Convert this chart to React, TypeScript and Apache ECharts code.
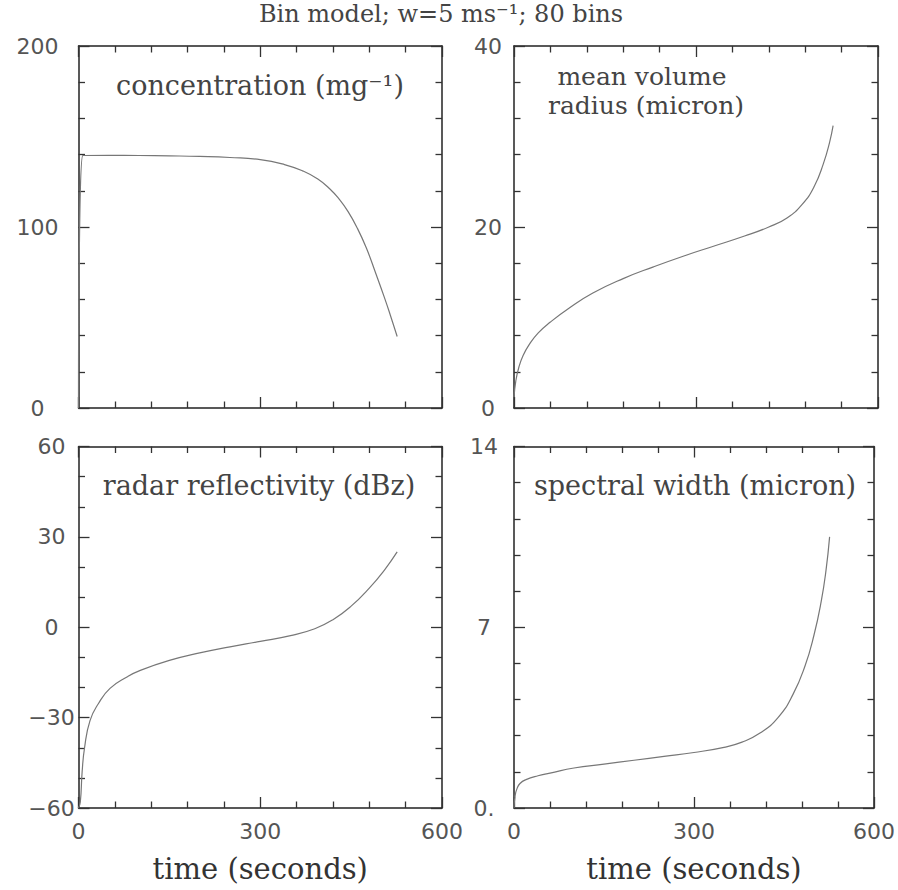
import React, { useEffect, useRef } from "react";
import * as echarts from "echarts";

// ---- data (time in seconds) ----
const concT = [0, 7, 50, 100, 150, 200, 250, 300, 340, 370, 395, 415, 430, 445, 460, 475, 490, 505, 515, 526];
const concV = [0, 139.5, 139.6, 139.5, 139.3, 139, 138.4, 137.2, 134.5, 131, 126.5, 121, 115.5, 108.5, 99.5, 88.5, 75, 61, 51, 39.5];

const radT = [0, 3, 8, 15, 25, 40, 60, 90, 130, 180, 230, 280, 330, 380, 420, 450, 475, 495, 510, 520, 526];
const radV = [1.2, 3, 4.5, 5.8, 7, 8.3, 9.5, 11, 12.7, 14.3, 15.6, 16.8, 17.9, 19, 20, 21, 22.5, 24.5, 27, 29.3, 31.2];

const dbzT = [0, 3, 6, 10, 19, 33, 52, 80, 102, 150, 200, 250, 300, 350, 390, 420, 450, 480, 505, 526];
const dbzV = [-60, -58, -48, -40, -31, -25.3, -20.3, -16.5, -14.3, -11, -8.5, -6.5, -4.7, -2.8, -0.5, 2.5, 7, 13, 19, 25];

const swT = [0, 2, 5, 10, 20, 40, 60, 100, 150, 200, 250, 300, 350, 380, 410, 440, 465, 485, 500, 512, 520, 526];
const swV = [0, 0.5, 0.75, 0.95, 1.1, 1.25, 1.35, 1.55, 1.7, 1.85, 2.0, 2.15, 2.35, 2.55, 2.9, 3.5, 4.4, 5.5, 6.7, 8, 9.2, 10.5];

const timeTicks = [0, 300, 600];
const titleText = "Bin model; w=5 ms\u207B\u00B9; 80 bins";
// each panel label: list of [text, centerX, centerY, fontSize]
const panelLabels: [string, number, number, number][] = [
  ["concentration (mg\u207B\u00B9)", 260, 85, 27],
  ["mean volume", 642, 76, 25],
  ["radius (micron)", 646, 105, 25],
  ["radar reflectivity (dBz)", 259, 485, 27],
  ["spectral width (micron)", 695, 485, 27],
];
const yRanges = [
  { min: 0, max: 200, interval: 100, minor: 5 },
  { min: 0, max: 40, interval: 20, minor: 5 },
  { min: -60, max: 60, interval: 30, minor: 3 },
  { min: 0, max: 14, interval: 7, minor: 5 },
];

const zip = (t: number[], v: number[]) => t.map((x, i) => [x, v[i]]);

export default function App() {
  const ref = useRef<HTMLDivElement>(null);
  useEffect(() => {
    if (!ref.current) return;
    const chart = echarts.init(ref.current, null, { renderer: "svg" });

    const grids = [
      { left: 78.5, top: 46, width: 363.5, height: 362 },
      { left: 514, top: 46, width: 364, height: 362 },
      { left: 78.5, top: 446.5, width: 363.5, height: 361.5 },
      { left: 514, top: 446.5, width: 364, height: 361.5 },
    ];
    const yLabelMargin = [41, 26, 27, 30];
    const series = [zip(concT, concV), zip(radT, radV), zip(dbzT, dbzV), zip(swT, swV)];

    const axisLine = { show: true, onZero: false, lineStyle: { color: "#222", width: 1.5 } };
    const tick = { show: true, inside: true, length: 11, lineStyle: { color: "#333", width: 1.3 } };
    const minorLen = 6.5;
    const labelStyle = { fontFamily: "DejaVu Sans", fontSize: 22, color: "#555" };

    const xAxis: any[] = [];
    const yAxis: any[] = [];
    grids.forEach((g, i) => {
      const bottomRow = i >= 2;
      xAxis.push({
        type: "value", gridIndex: i, position: "bottom", min: 0, max: 600, interval: 300,
        axisLine, axisTick: tick,
        minorTick: { show: true, splitNumber: 5, length: minorLen, lineStyle: { color: "#333", width: 1.3 } },
        splitLine: { show: false },
        axisLabel: {
          show: bottomRow, margin: 12, showMaxLabel: true, showMinLabel: true, ...labelStyle,
          formatter: (v: number) => (timeTicks.includes(v) ? String(v) : ""),
        },
        name: bottomRow ? "time (seconds)" : "",
        nameLocation: "middle",
        nameGap: 46,
        nameTextStyle: { fontFamily: "DejaVu Serif", fontSize: 29, color: "#333" },
      });
      xAxis.push({
        type: "value", gridIndex: i, position: "top", min: 0, max: 600, interval: 300,
        axisLine, axisTick: tick,
        minorTick: { show: true, splitNumber: 5, length: minorLen, lineStyle: { color: "#333", width: 1.3 } },
        splitLine: { show: false }, axisLabel: { show: false },
      });
      const r = yRanges[i];
      yAxis.push({
        type: "value", gridIndex: i, position: "left", min: r.min, max: r.max, interval: r.interval,
        axisLine, axisTick: tick,
        minorTick: { show: true, splitNumber: r.minor, length: minorLen, lineStyle: { color: "#333", width: 1.3 } },
        splitLine: { show: false },
        axisLabel: {
          show: true, align: "center", margin: yLabelMargin[i], showMaxLabel: true, showMinLabel: true, ...labelStyle,
          formatter: (v: number) => {
            if (i === 3 && v === 0) return "0.";
            if (v < 0) return "\u2212" + Math.abs(v);
            return String(v);
          },
        },
      });
      yAxis.push({
        type: "value", gridIndex: i, position: "right", min: r.min, max: r.max, interval: r.interval,
        axisLine, axisTick: tick,
        minorTick: { show: true, splitNumber: r.minor, length: minorLen, lineStyle: { color: "#333", width: 1.3 } },
        splitLine: { show: false }, axisLabel: { show: false },
      });
    });

    const graphics: any[] = [
      {
        type: "text", x: 441, y: 14,
        style: { text: titleText, fontFamily: "DejaVu Serif", fontSize: 24, fill: "#444", align: "center", verticalAlign: "middle" },
      },
    ];
    panelLabels.forEach(([txt, cx, cy, fs]) => {
      graphics.push({
        type: "text", x: cx, y: cy,
        style: { text: txt, fontFamily: "DejaVu Serif", fontSize: fs, fill: "#444", align: "center", verticalAlign: "middle" },
      });
    });

    chart.setOption({
      animation: false,
      backgroundColor: "#fff",
      grid: grids.map((g) => ({ ...g, containLabel: false })),
      xAxis,
      yAxis,
      series: series.map((d, i) => ({
        type: "line", xAxisIndex: 2 * i, yAxisIndex: 2 * i, data: d,
        showSymbol: false, smooth: 0.5,
        lineStyle: { color: "#777", width: 1.2 },
      })),
      graphic: graphics,
    });
    return () => chart.dispose();
  }, []);
  return <div ref={ref} style={{ position: "absolute", left: 0, top: 0, width: 898, height: 890 }} />;
}
